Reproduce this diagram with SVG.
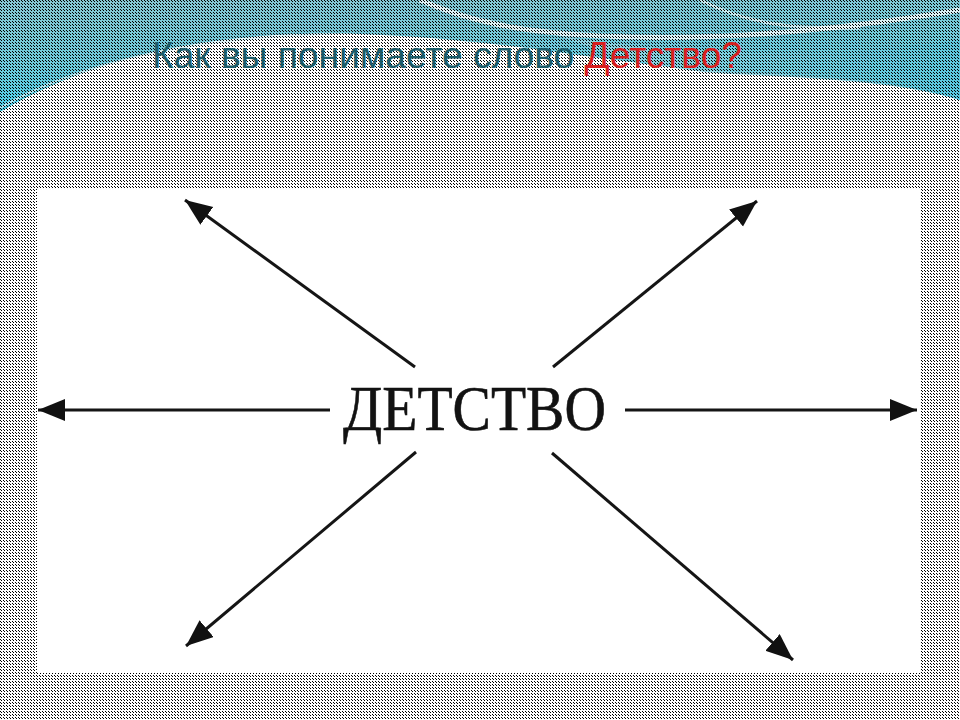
<svg xmlns="http://www.w3.org/2000/svg" width="960" height="720" viewBox="0 0 960 720">
  <style>
    .conn { stroke: #151515; stroke-width: 3; fill: none; marker-end: url(#arrow); }
    .title { font-family: "Liberation Sans", Arial, sans-serif; font-size: 37px; }
    .center { font-family: "Liberation Serif", "Times New Roman", serif; font-size: 63px; fill: #121212; stroke: #121212; stroke-width: 0.6; }
  </style>
  <defs>
    <pattern id="dither" width="3" height="3" patternUnits="userSpaceOnUse">
      <rect x="0" y="0" width="1" height="1" fill="#000"/>
      <rect x="1" y="1" width="1" height="1" fill="#000"/>
    </pattern>
    <linearGradient id="sky" x1="0" y1="0" x2="0.2" y2="1">
      <stop offset="0" stop-color="#86c6d2"/>
      <stop offset="0.6" stop-color="#6ccbdc"/>
      <stop offset="1" stop-color="#48d0ea"/>
    </linearGradient>
    <linearGradient id="sky2" x1="0" y1="0" x2="1" y2="0">
      <stop offset="0" stop-color="#9ad6e0"/>
      <stop offset="1" stop-color="#5cc6dc"/>
    </linearGradient>
    <marker id="arrow" markerUnits="userSpaceOnUse" markerWidth="28" markerHeight="24" refX="27" refY="11" orient="auto">
      <path d="M0,0 L27,11 L0,22 Z" fill="#111"/>
    </marker>
  </defs>

  <!-- background -->
  <rect width="960" height="720" fill="#ffffff"/>
  <path d="M0,0 H960 V100 C900,80 820,76 730,72 C620,66 520,40 360,34 C210,30 90,58 0,112 Z" fill="url(#sky)"/>
  <path d="M560,36 C660,52 780,62 960,40 V100 C900,82 820,78 730,74 C660,70 600,52 560,36 Z" fill="url(#sky2)" opacity="0.8"/>
  <path d="M420,0 C470,22 520,32 600,36 C720,42 840,30 960,10" stroke="#ffffff" stroke-width="5" fill="none" opacity="0.75"/>
  <path d="M700,0 C740,20 780,30 860,28" stroke="#ffffff" stroke-width="3" fill="none" opacity="0.6"/>
  <path d="M0,108 C80,62 190,38 330,34" stroke="#d2eef3" stroke-width="2" fill="none" opacity="0.8"/>
  <rect width="960" height="720" fill="url(#dither)"/>

  <!-- white panel -->
  <rect x="37" y="188" width="884" height="485" fill="#ffffff"/>

  <!-- title -->
  <g id="title">
    <text class="title" x="152" y="68" textLength="590" lengthAdjust="spacingAndGlyphs"><tspan fill="#1b5b68">Как вы понимаете слово </tspan><tspan fill="#d81e1e">Детство?</tspan></text>
  </g>

  <!-- connectors -->
  <g id="connectors">
    <line class="conn" x1="415" y1="367" x2="185" y2="200"/>
    <line class="conn" x1="553" y1="367" x2="757" y2="201"/>
    <line class="conn" x1="330" y1="410" x2="38" y2="410"/>
    <line class="conn" x1="625" y1="410" x2="917" y2="410"/>
    <line class="conn" x1="416" y1="452" x2="186" y2="646"/>
    <line class="conn" x1="552" y1="453" x2="793" y2="660"/>
  </g>

  <!-- center node -->
  <g id="node-detstvo">
    <text class="center" x="343" y="430" textLength="263" lengthAdjust="spacingAndGlyphs">ДЕТСТВО</text>
  </g>
</svg>
